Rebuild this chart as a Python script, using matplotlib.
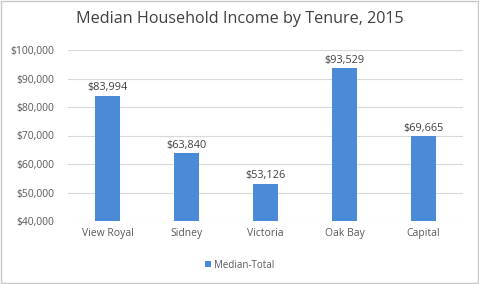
import matplotlib.pyplot as plt
from matplotlib.ticker import FuncFormatter

categories = ["View Royal", "Sidney", "Victoria", "Oak Bay", "Capital"]
values = [83994, 63840, 53126, 93529, 69665]
series_name = "Median-Total"
title = "Median Household Income by Tenure, 2015"

plt.rcParams['font.family'] = ['Open Sans', 'DejaVu Sans']

fig = plt.figure(figsize=(4.79, 2.84), dpi=100)
ax = fig.add_axes([68/479, 1-221/284, (463-68)/479, (221-50)/284])

color = '#4A8AD6'
x = range(len(categories))
bars = ax.bar(x, values, width=0.32, color=color, label=series_name, zorder=3)
for xi, v in zip(x, values):
    ax.text(xi, v + 800, f"${v:,.0f}", ha='center', va='bottom', fontsize=7.8, color='#404040')

ax.set_ylim(40000, 100000)
ax.set_xlim(-0.5, len(categories) - 0.5)
ax.set_yticks(range(40000, 100001, 10000))
ax.yaxis.set_major_formatter(FuncFormatter(lambda v, p: f"${v:,.0f}"))
ax.set_xticks(list(x))
ax.set_xticklabels(categories)
ax.tick_params(axis='both', length=0, labelsize=7.5, labelcolor='#595959')
ax.tick_params(axis='y', pad=10)
ax.tick_params(axis='x', pad=5)
ax.grid(axis='y', color='#D9D9D9', linewidth=0.8, zorder=0)
for s in ax.spines.values():
    s.set_visible(False)

fig.text(0.5, 1-19/284, title, ha='center', va='center', fontsize=11.6, color='#404040')
fig.legend(handles=[bars], labels=[series_name], loc='center', bbox_to_anchor=(0.5, 1-265/284),
           frameon=False, fontsize=7, labelcolor='#595959', handlelength=0.6, handleheight=0.6,
           handletextpad=0.3)

fig.patches.append(plt.Rectangle((0.002, 0.004), 0.996, 0.992, transform=fig.transFigure,
                                 fill=False, edgecolor='#C8C8C8', linewidth=1))
fig.savefig('out.png', dpi=100)
